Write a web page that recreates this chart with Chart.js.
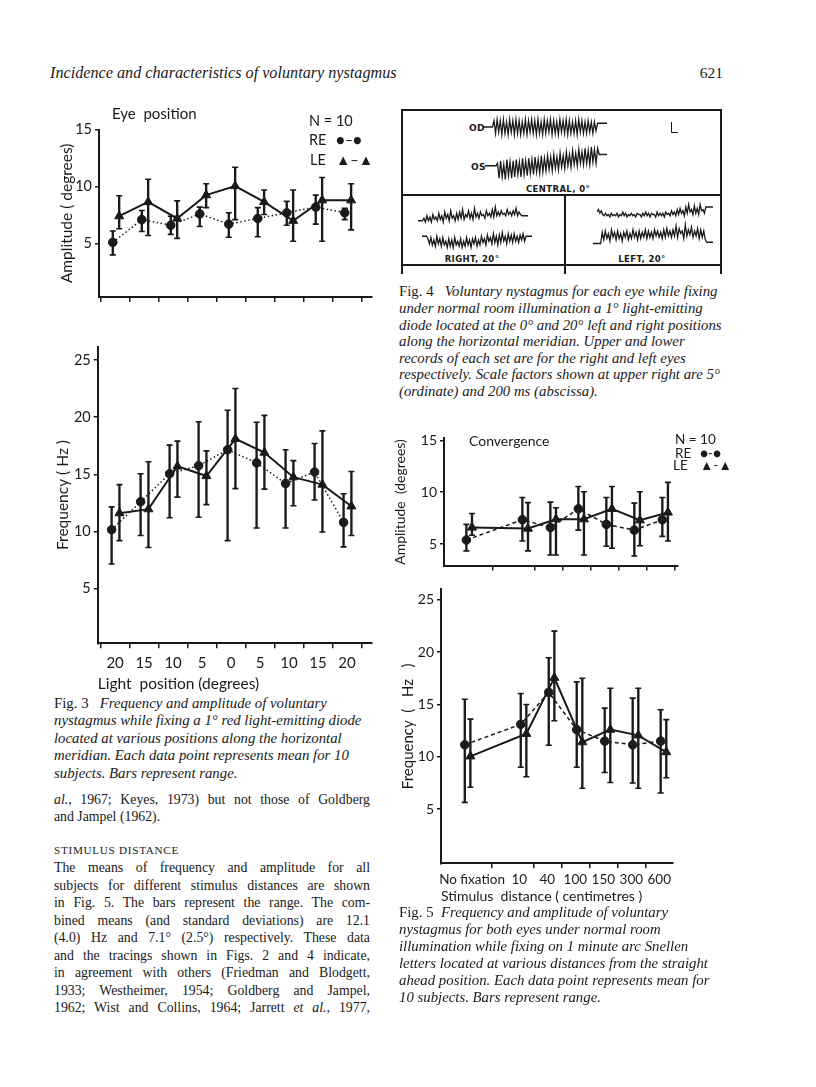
<!DOCTYPE html>
<html><head><meta charset="utf-8">
<script src="https://cdn.jsdelivr.net/npm/chart.js@4.4.1/dist/chart.umd.min.js"></script>
<style>
html,body{margin:0;padding:0;background:#fff;}
body{width:816px;height:1087px;position:relative;overflow:hidden;color:#1a1a1a;}
canvas{position:absolute;}
.t{position:absolute;white-space:pre;line-height:16px;z-index:2;}
.sans{font-family:Lato,'Noto Sans',sans-serif;}
.serif{font-family:'Liberation Serif','DejaVu Serif',serif;}
.it{font-style:italic;}
.cap{position:absolute;white-space:pre;line-height:16px;font-family:'Liberation Serif',serif;font-style:italic;font-size:14.8px;}
.cap .r{font-style:normal;}
.bd{position:absolute;white-space:nowrap;line-height:16px;font-family:'Liberation Serif',serif;font-size:13.8px;text-align:justify;text-align-last:justify;width:316px;left:54px;}
.bd.last{text-align:left;text-align-last:left;}
.ln{position:absolute;background:#1a1a1a;}
.lab4{position:absolute;white-space:pre;font-family:'DejaVu Sans',sans-serif;font-weight:bold;font-size:8.5px;line-height:10px;letter-spacing:0.4px;}
</style></head><body>

<!-- header -->
<div class="t serif it" style="left:50px;top:65px;font-size:16.2px">Incidence and characteristics of voluntary nystagmus</div>
<div class="t serif" style="left:680px;top:65px;width:43px;text-align:right;font-size:15.5px">621</div>

<!-- Fig 3 annotations -->
<div class="t sans" style="left:112px;top:105px;font-size:15px">Eye  position</div>
<div class="t sans" style="left:309px;top:113px;font-size:14.5px">N = 10</div>
<div class="t sans" style="left:309px;top:132px;font-size:14.5px">RE<span style="position:absolute;left:27px;top:0">●–●</span></div>
<div class="t sans" style="left:310px;top:152px;font-size:14.5px">LE<span style="position:absolute;left:26px;top:0">▲–▲</span></div>

<canvas id="f3a"></canvas>
<canvas id="f3b"></canvas>

<!-- Fig 3 caption -->
<div class="cap" style="left:54px;top:695px"><span class="r">Fig. 3</span>   Frequency and amplitude of voluntary</div>
<div class="cap" style="left:54px;top:712px">nystagmus while fixing a 1° red light-emitting diode</div>
<div class="cap" style="left:54px;top:730px">located at various positions along the horizontal</div>
<div class="cap" style="left:54px;top:747px">meridian. Each data point represents mean for 10</div>
<div class="cap" style="left:54px;top:765px">subjects. Bars represent range.</div>

<!-- body text -->
<div class="bd" style="top:792px"><i>al.</i>, 1967; Keyes, 1973) but not those of Goldberg</div>
<div class="bd last" style="top:809px">and Jampel (1962).</div>
<div class="t serif" style="left:54px;top:842px;font-size:11.2px;letter-spacing:0.7px">STIMULUS DISTANCE</div>
<div class="bd" style="top:860px">The means of frequency and amplitude for all</div>
<div class="bd" style="top:877.5px">subjects for different stimulus distances are shown</div>
<div class="bd" style="top:895px">in Fig. 5. The bars represent the range. The com-</div>
<div class="bd" style="top:912.5px">bined means (and standard deviations) are 12.1</div>
<div class="bd" style="top:930px">(4.0) Hz and 7.1° (2.5°) respectively. These data</div>
<div class="bd" style="top:947.5px">and the tracings shown in Figs. 2 and 4 indicate,</div>
<div class="bd" style="top:965px">in agreement with others (Friedman and Blodgett,</div>
<div class="bd" style="top:982.5px">1933; Westheimer, 1954; Goldberg and Jampel,</div>
<div class="bd" style="top:1000px">1962; Wist and Collins, 1964; Jarrett <i>et al.</i>, 1977,</div>

<!-- Fig 4 frame -->
<div class="ln" style="left:401px;top:109px;width:321px;height:1.6px"></div>
<div class="ln" style="left:401px;top:109px;width:1.6px;height:165px"></div>
<div class="ln" style="left:720px;top:109px;width:1.6px;height:165px"></div>
<div class="ln" style="left:401px;top:194px;width:321px;height:1.6px"></div>
<div class="ln" style="left:564px;top:194px;width:1.6px;height:80px"></div>
<div class="ln" style="left:401px;top:264px;width:321px;height:1.6px"></div>
<div class="ln" style="left:671px;top:122px;width:1.4px;height:11px"></div>
<div class="ln" style="left:671px;top:132px;width:7px;height:1.4px"></div>
<div class="lab4" style="left:469px;top:123px;font-size:9px">OD</div>
<div class="lab4" style="left:471px;top:162px;font-size:9px">OS</div>
<div class="lab4" style="left:508px;top:184px;width:100px;text-align:center">CENTRAL, 0°</div>
<div class="lab4" style="left:422px;top:254px;width:100px;text-align:center">RIGHT, 20°</div>
<div class="lab4" style="left:592px;top:254px;width:100px;text-align:center">LEFT, 20°</div>
<canvas id="trOD"></canvas>
<canvas id="trOS"></canvas>
<canvas id="trRU"></canvas>
<canvas id="trRL"></canvas>
<canvas id="trLU"></canvas>
<canvas id="trLL"></canvas>

<!-- Fig 4 caption -->
<div class="cap" style="left:399px;top:283px"><span class="r">Fig. 4</span>   Voluntary nystagmus for each eye while fixing</div>
<div class="cap" style="left:399px;top:300px">under normal room illumination a 1° light-emitting</div>
<div class="cap" style="left:399px;top:316.5px">diode located at the 0° and 20° left and right positions</div>
<div class="cap" style="left:399px;top:333px">along the horizontal meridian. Upper and lower</div>
<div class="cap" style="left:399px;top:349.5px">records of each set are for the right and left eyes</div>
<div class="cap" style="left:399px;top:366px">respectively. Scale factors shown at upper right are 5°</div>
<div class="cap" style="left:399px;top:382.5px">(ordinate) and 200 ms (abscissa).</div>

<!-- Fig 5 annotations -->
<div class="t sans" style="left:469px;top:433px;font-size:14px">Convergence</div>
<div class="t sans" style="left:675px;top:433px;font-size:13.5px;line-height:13px">N = 10</div>
<div class="t sans" style="left:675px;top:447px;font-size:13.5px;line-height:13px">RE<span style="position:absolute;left:25px;top:0">●-●</span></div>
<div class="t sans" style="left:673px;top:459px;font-size:13.5px;line-height:13px">LE<span style="position:absolute;left:27px;top:0">▲-▲</span></div>

<canvas id="f5a"></canvas>
<canvas id="f5b"></canvas>

<!-- Fig 5 caption -->
<div class="cap" style="left:399px;top:904px"><span class="r">Fig. 5</span>  Frequency and amplitude of voluntary</div>
<div class="cap" style="left:399px;top:921px">nystagmus for both eyes under normal room</div>
<div class="cap" style="left:399px;top:938px">illumination while fixing on 1 minute arc Snellen</div>
<div class="cap" style="left:399px;top:955px">letters located at various distances from the straight</div>
<div class="cap" style="left:399px;top:972px">ahead position. Each data point represents mean for</div>
<div class="cap" style="left:399px;top:989px">10 subjects. Bars represent range.</div>

<script>
// ---------- Fig. 3 data (light position, degrees) ----------
const positionLabels = ['20','15','10','5','0','5','10','15','20'];
const amplitudeTicks = [5, 10, 15];
const frequencyTicks = [5, 10, 15, 20, 25];

const ampREMean = [5.1, 7.1, 6.6, 7.6, 6.7, 7.2, 7.7, 8.2, 7.7];
const ampRELow  = [4.0, 6.05, 5.8, 6.5, 5.55, 5.6, 6.6, 6.7, 7.1];
const ampREHigh = [6.1, 7.9, 7.4, 8.2, 7.7, 8.15, 8.7, 9.25, 8.1];
const ampLEMean = [7.4, 8.65, 7.2, 9.25, 10.05, 8.65, 7.0, 8.8, 8.8];
const ampLELow  = [6.3, 5.7, 5.45, 8.15, 7.1, 7.55, 5.2, 5.2, 6.2];
const ampLEHigh = [9.2, 10.65, 8.75, 10.25, 11.7, 9.7, 9.7, 10.8, 10.25];

const freqREMean = [10.15, 12.6, 15.05, 15.75, 17.15, 16.0, 14.2, 15.2, 10.8];
const freqRELow  = [7.15, 9.65, 11.2, 11.25, 9.2, 10.3, 10.3, 12.75, 8.65];
const freqREHigh = [12.15, 15.05, 17.55, 19.6, 20.6, 19.55, 17.15, 17.7, 13.3];
const freqLEMean = [11.6, 11.95, 15.7, 14.85, 18.1, 16.9, 14.75, 14.1, 12.2];
const freqLELow  = [9.2, 8.6, 13.0, 12.35, 13.75, 13.7, 12.25, 9.95, 9.65];
const freqLEHigh = [14.1, 16.1, 17.9, 17.05, 22.5, 20.15, 16.2, 18.8, 15.25];

// ---------- Fig. 5 data (stimulus distance, cm) ----------
const distanceCategories = ['No fixation', '10', '40', '100', '150', '300', '600'];
const distanceAxisLabels = ['     No fixation', '', '10', '40', '100', '150', '300', '600'];

const cAmpREMean = [5.4, 7.35, 6.6, 8.4, 6.9, 6.35, 7.35];
const cAmpRELow  = [4.35, 5.3, 3.95, 6.35, 4.8, 3.85, 5.75];
const cAmpREHigh = [6.9, 9.5, 9.05, 10.55, 9.5, 8.95, 9.5];
const cAmpLEMean = [6.6, 6.5, 7.4, 7.4, 8.4, 7.3, 8.05];
const cAmpLELow  = [5.85, 4.35, 3.95, 3.95, 4.6, 4.85, 5.3];
const cAmpLEHigh = [7.95, 9.0, 8.5, 10.05, 10.55, 10.05, 10.95];

const cFreqREMean = [11.15, 13.1, 16.15, 12.6, 11.5, 11.15, 11.5];
const cFreqRELow  = [5.65, 9.0, 11.1, 9.0, 8.5, 7.5, 6.55];
const cFreqREHigh = [15.5, 16.05, 19.45, 17.15, 14.65, 15.6, 14.5];
const cFreqLEMean = [10.05, 12.2, 17.55, 11.4, 12.6, 12.05, 10.45];
const cFreqLELow  = [7.1, 8.1, 13.45, 7.0, 7.55, 7.0, 8.0];
const cFreqLEHigh = [13.6, 15.0, 22.0, 17.5, 16.55, 16.55, 13.55];

// ---------- Fig. 4 recorded traces (eye position samples) ----------
const odTrace = [0,0,0,0,0,0,0,
 5,-5,6,-4,5,-6,6,-5,4,-6,6,-4,5,-6,6,-5,5,-6,4,-5,6,-6,5,-4,6,-5,5,-6,6,-5,4,-6,6,-5,5,-4,6,-6,5,-5,4,-6,6,-4,5,-5,6,-6,5,-5,4,-5,5,-6,6,-4,5,-5,4,-5,5,-4,4,-5,4,-3,
 3,3,3,3,3,3,3];
const osTrace = [-3,-3,-3,-3,-3,-3,-3,-3,
 -1,-13,1,-12,-2,-14,2,-11,0,-13,1,-12,2,-10,0,-12,3,-10,1,-11,3,-9,2,-10,4,-8,2,-9,5,-8,3,-7,5,-6,4,-7,6,-5,4,-6,7,-4,5,-5,8,-3,6,-4,9,-2,7,-3,10,-1,8,-2,11,-1,9,-2,12,0,10,-1,11,
 6,6,6,6,6,6];
const rightUpperTrace = [-3,-3,-3,-3,
 -1,-4,1,-3,0,-4,2,-2,0,-3,3,-2,1,-4,4,-1,2,-3,5,-1,1,-3,3,-2,4,-1,6,-2,2,0,5,-1,3,-2,7,0,3,-1,4,1,2,-1,5,1,3,0,6,0,8,1,4,1,5,2,3,1,6,2,4,1,5,2,7,1,4,2,
 1,1,1,1,1];
const rightLowerTrace = [3,3,3,3,
 1,-3,2,-4,0,-5,3,-3,1,-5,2,-4,-1,-6,1,-5,0,-6,2,-4,-1,-5,1,-6,-1,-5,2,-4,0,-6,1,-3,2,-5,0,-4,3,-2,1,-4,4,-1,2,-3,5,-2,3,-4,4,-2,6,-1,3,-3,5,-1,4,-2,5,-1,3,-2,4,0,5,-1,
 3,3,3,3,3];
const leftUpperTrace = [0,2,-1,1,
 -2,-3,-1,-3,-2,-4,-1,-3,-2,-3,-1,-4,-2,-3,0,-3,-1,-4,-2,-3,-1,-3,-2,-4,-1,-2,-2,-4,-1,-3,0,-3,-1,-4,-1,-2,-2,-4,0,-3,-1,-3,-1,-4,0,-2,-1,-3,1,-2,0,-3,2,-2,3,-1,1,-3,4,-1,6,0,2,-2,5,-1,3,-2,6,1,2,-1,
 4,4,4,4,4,4];
const leftLowerTrace = [-6,-6,-6,-6,-6,-6,
 3,-3,4,-2,2,-4,5,-1,3,-3,4,-2,2,-4,3,-1,4,-3,2,-2,5,-1,3,-3,4,-2,3,-1,5,-2,4,-1,3,-2,5,0,4,-1,3,-2,5,-1,6,0,4,-1,5,0,8,-1,6,2,4,-2,9,0,5,1,7,-1,4,0,6,-2,5,-1,4,-3,
 -5,-5,-5,-5,-5];

// ---------- drawing ----------
const INK = '#1a1a1a';
Chart.defaults.font.family = "Lato, 'Noto Sans', sans-serif";
Chart.defaults.color = INK;

function seriesDatasets(xs, mean, low, high, o) {
  return [
    {type:'line', data: xs.map((x,i)=>({x, y:mean[i]})), borderColor:INK, borderWidth:o.lw,
     borderDash:o.dash, pointStyle:o.marker, pointRadius:o.r, pointBackgroundColor:INK,
     pointBorderColor:INK, pointBorderWidth:1, tension:0, order:1},
    {type:'bar', data: xs.map((x,i)=>({x, y:[low[i], high[i]]})), backgroundColor:INK,
     barThickness:1.7, grouped:false, borderWidth:0, order:2},
    {type:'line', showLine:false, data: xs.flatMap((x,i)=>[{x,y:low[i]},{x,y:high[i]}]),
     pointStyle:'line', pointRadius:3, pointBorderWidth:1.6, pointBorderColor:INK, order:2}
  ];
}

function makePanel(id, box, area, padLeft, xc, yc, datasets) {
  const cv = document.getElementById(id);
  cv.width = box.w; cv.height = box.h;
  cv.style.left = box.x + 'px'; cv.style.top = box.y + 'px';
  const yW = area.l - box.x - padLeft;
  const xH = box.y + box.h - area.b;
  new Chart(cv, {
    type: 'line',
    data: {datasets},
    options: {
      responsive:false, animation:false, events:[],
      layout:{padding:{left:padLeft, top:area.t - box.y, right:box.x + box.w - area.r, bottom:0}},
      plugins:{legend:{display:false}, tooltip:{enabled:false}},
      scales:{
        x:{type:'linear', min:xc.min, max:xc.max, offset:false,
           afterBuildTicks:s=>{ s.ticks = xc.ticks.map(v=>({value:v})); },
           afterFit:s=>{ s.height = xH; },
           ticks:{callback:xc.label, padding:xc.pad, font:{size:xc.fs}, color:INK, maxRotation:0, autoSkip:false},
           grid:{drawOnChartArea:false, drawTicks:true, tickLength:5, lineWidth:1.5,
                 color: ctx => (xc.noTick && ctx.tick && xc.noTick.includes(ctx.tick.value)) ? 'rgba(0,0,0,0)' : INK},
           border:{display:true, color:INK, width:2},
           title:{display:!!xc.title, text:xc.title, align:'start', font:{size:xc.tfs}, padding:0, color:INK}},
        y:{type:'linear', min:yc.min, max:yc.max,
           afterBuildTicks:s=>{ s.ticks = yc.ticks.map(v=>({value:v})); },
           afterFit:s=>{ s.width = yW; },
           ticks:{callback:v=>String(v), padding:yc.pad, font:{size:yc.fs}, color:INK},
           grid:{drawOnChartArea:false, drawTicks:true, tickLength:4, lineWidth:1.5, color:INK},
           border:{display:true, color:INK, width:2},
           title:{display:true, text:yc.title, font:{size:yc.tfs}, padding:0, color:INK}}
      }
    }
  });
}

// Fig 3
const posIdx = positionLabels.map((_,i)=>i);
const f3x = i => posIdx.map(v => v + i);
const dotted = {lw:1.5, dash:[1.5,2.5], marker:'circle', r:4.3};
const solidT = {lw:2, dash:[], marker:'triangle', r:5.2};

makePanel('f3a', {x:40,y:118,w:340,h:192}, {l:99,t:128,r:372,b:297}, 18,
  {min:-0.576, max:8.84, ticks:posIdx, label:()=>'', pad:0, fs:14},
  {min:0.3, max:15, ticks:amplitudeTicks, pad:3, fs:14.5, title:'Amplitude ( degrees)', tfs:15.5},
  [...seriesDatasets(f3x(-0.1), ampREMean, ampRELow, ampREHigh, dotted),
   ...seriesDatasets(f3x(0.12), ampLEMean, ampLELow, ampLEHigh, solidT)]);

makePanel('f3b', {x:40,y:335,w:340,h:358}, {l:97.7,t:345,r:371.7,b:643.3}, 14,
  {min:-0.6, max:8.85, ticks:posIdx, label:v=>positionLabels[v], pad:6, fs:15,
   title:'Light  position (degrees)', tfs:15.5},
  {min:0.22, max:26.16, ticks:frequencyTicks, pad:3, fs:14.5, title:'Frequency ( Hz )', tfs:15.5},
  [...seriesDatasets(f3x(-0.12), freqREMean, freqRELow, freqREHigh, dotted),
   ...seriesDatasets(f3x(0.15), freqLEMean, freqLELow, freqLEHigh, solidT)]);

// Fig 5
const distIdx = distanceCategories.map(c => distanceAxisLabels.findIndex(l => l.trim() === c));
const f5x = o => distIdx.map(v => v + o);
const dashed = {lw:1.5, dash:[4,3], marker:'circle', r:4.3};
const ampTicks5 = [5, 10, 15];

makePanel('f5a', {x:385,y:427,w:345,h:150}, {l:444,t:437,r:678,b:565.7}, 7,
  {min:-0.75, max:7.61, ticks:distIdx, label:()=>'', pad:0, fs:13, noTick:[0]},
  {min:2.93, max:15.19, ticks:ampTicks5, pad:3, fs:14, title:'Amplitude  (degrees)', tfs:14},
  [...seriesDatasets(f5x(0.05), cAmpREMean, cAmpRELow, cAmpREHigh, dashed),
   ...seriesDatasets(f5x(0.25), cAmpLEMean, cAmpLELow, cAmpLEHigh, solidT)]);

makePanel('f5b', {x:385,y:578,w:345,h:327}, {l:441,t:588,r:673,b:863.3}, 14.2,
  {min:-0.8, max:7.49, ticks:distIdx, label:v=>distanceAxisLabels[v], pad:3, fs:13.5, noTick:[0],
   title:'Stimulus  distance ( centimetres )', tfs:14},
  {min:-0.16, max:25.98, ticks:frequencyTicks, pad:3, fs:14, title:'Frequency  (   Hz   )', tfs:15},
  [...seriesDatasets(f5x(0.05), cFreqREMean, cFreqRELow, cFreqREHigh, dashed),
   ...seriesDatasets(f5x(0.25), cFreqLEMean, cFreqLELow, cFreqLEHigh, solidT)]);

// Fig 4 traces
function makeTrace(id, box, values) {
  const cv = document.getElementById(id);
  cv.width = box.w; cv.height = box.h;
  cv.style.left = box.x + 'px'; cv.style.top = box.y + 'px';
  new Chart(cv, {
    type:'line',
    data:{labels: values.map((_,i)=>i), datasets:[{data:values, borderColor:INK, borderWidth:1.3, pointRadius:0, tension:0}]},
    options:{responsive:false, animation:false, events:[], layout:{padding:0},
      plugins:{legend:{display:false}, tooltip:{enabled:false}},
      scales:{x:{display:false}, y:{display:false, min:-16, max:16}}}
  });
}
makeTrace('trOD', {x:483,y:107,w:124,h:40}, odTrace);
makeTrace('trOS', {x:485,y:142,w:122,h:40}, osTrace);
makeTrace('trRU', {x:418,y:197,w:110,h:40}, rightUpperTrace);
makeTrace('trRL', {x:422,y:220,w:110,h:40}, rightLowerTrace);
makeTrace('trLU', {x:597,y:192,w:116,h:40}, leftUpperTrace);
makeTrace('trLL', {x:593,y:216,w:120,h:40}, leftLowerTrace);
</script>
</body></html>
